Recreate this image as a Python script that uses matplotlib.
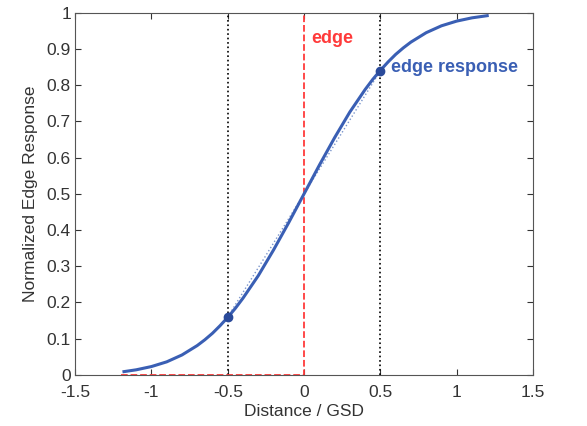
import matplotlib
matplotlib.use('Agg')
import matplotlib.pyplot as plt

plt.rcParams['font.family'] = ['Liberation Sans', 'DejaVu Sans']

# edge response
dist = [-1.18, -1.1, -1.0, -0.9, -0.8, -0.7, -0.65, -0.6, -0.55, -0.5, -0.45, -0.4, -0.3, -0.2, -0.1,
        0.0, 0.1, 0.2, 0.3, 0.4, 0.45, 0.5, 0.55, 0.6, 0.65, 0.7, 0.8, 0.9, 1.0, 1.1, 1.2]
resp = [0.009, 0.014, 0.023, 0.036, 0.055, 0.081, 0.097, 0.115, 0.136, 0.159, 0.184, 0.212, 0.274, 0.345, 0.421,
        0.5, 0.579, 0.655, 0.726, 0.788, 0.816, 0.841, 0.864, 0.885, 0.903, 0.919, 0.945, 0.964, 0.977, 0.986, 0.992]

# ideal step edge
edge_x = [-1.2, 0.0, 0.0, 1.2]
edge_y = [0, 0, 1, 1]

# sample points at +-0.5 GSD
pts_x = [-0.5, 0.5]
pts_y = [0.16, 0.84]

xticks = [-1.5, -1, -0.5, 0, 0.5, 1, 1.5]
yticks = [0, 0.1, 0.2, 0.3, 0.4, 0.5, 0.6, 0.7, 0.8, 0.9, 1]

blue = '#3a5fb4'
red = '#ff3a3a'

fig = plt.figure(figsize=(5.87, 4.26), dpi=100)
ax = fig.add_axes([0.128, 0.12, 0.78, 0.85])

for xv in pts_x:
    ax.plot([xv, xv], [0, 1], color='black', ls=':', lw=1.2)
ax.plot(edge_x, edge_y, color=red, ls='--', lw=1.3)
ax.plot(pts_x, pts_y, color='#7a95cc', ls=':', lw=1.0)
ax.plot(dist, resp, color=blue, lw=2.2)
ax.plot(pts_x, pts_y, 'o', color='#2a4a9a', ms=6)

ax.text(0.05, 0.93, 'edge', color=red, fontsize=13, fontweight='bold', va='center')
ax.text(0.57, 0.85, 'edge response', color=blue, fontsize=13, fontweight='bold', va='center')

ax.set_xlim(-1.5, 1.5)
ax.set_ylim(0, 1)
ax.set_xticks(xticks)
ax.set_xticklabels(['-1.5', '-1', '-0.5', '0', '0.5', '1', '1.5'])
ax.set_yticks(yticks)
ax.set_yticklabels(['0', '0.1', '0.2', '0.3', '0.4', '0.5', '0.6', '0.7', '0.8', '0.9', '1'])
ax.tick_params(direction='in', top=True, right=True, labelsize=12.5, colors='#333333',
               length=4)
ax.tick_params(axis='x', pad=7)
ax.tick_params(axis='y', pad=3)
for s in ax.spines.values():
    s.set_color('#555555')
ax.set_xlabel('Distance / GSD', fontsize=12.5, color='#333333', labelpad=3)
ax.set_ylabel('Normalized Edge Response', fontsize=12.5, color='#333333', labelpad=6)

fig.savefig('out.png', dpi=100)
